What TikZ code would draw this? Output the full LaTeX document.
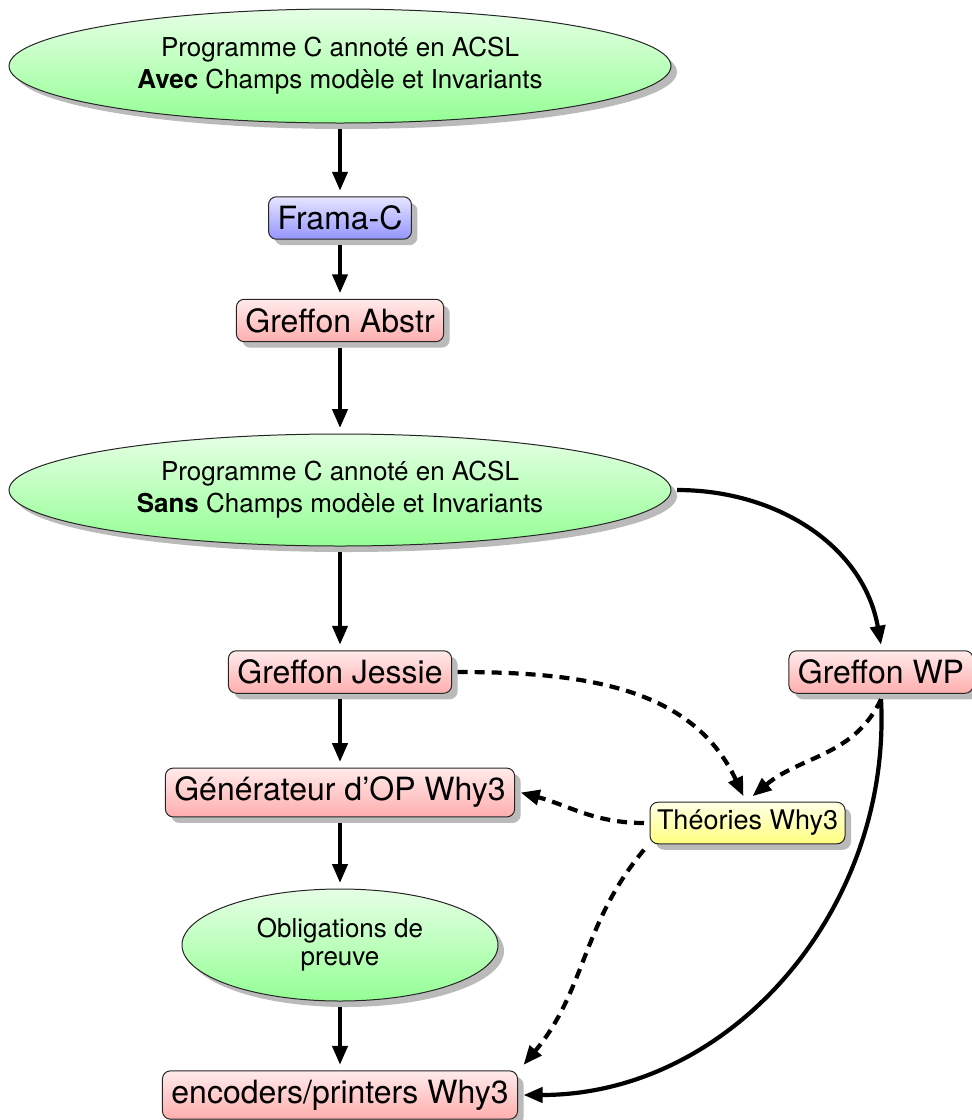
\documentclass[tikz,border=0pt]{standalone}
\usepackage{fontspec}
\setmainfont{TeX Gyre Heros}
\usetikzlibrary{shapes.geometric,shadows,arrows.meta}
\begin{document}
\begin{tikzpicture}[x=1pt,y=-1pt,
  every node/.style={outer sep=6pt},
  base/.style={draw=black!85, line width=1pt,
    drop shadow={shadow xshift=6pt, shadow yshift=-6pt, fill=black!27, opacity=1}},
  ell/.style={base, ellipse, inner sep=0pt, align=center,
    font=\fontsize{26}{32}\selectfont, top color=green!10, bottom color=green!42},
  boxr/.style={base, rectangle, rounded corners=8pt, inner xsep=9pt, inner ysep=9pt,
    font=\fontsize{32}{38}\selectfont, top color=red!8, bottom color=red!32},
  boxb/.style={boxr, top color=blue!10, bottom color=blue!42},
  boxy/.style={boxr, inner xsep=7pt, inner ysep=8pt,
    font=\fontsize{27}{32}\selectfont, top color=yellow!10, bottom color=yellow!50},
  arr/.style={line width=4.2pt, -{Triangle[length=19pt,width=15pt]}},
  darr/.style={arr, dash pattern=on 10pt off 7pt},
]
\useasboundingbox (0,0) rectangle (972,1120);

\node[ell, minimum width=662pt, minimum height=114pt] (top) at (340,66)
  {Programme C annoté en ACSL\\\textbf{Avec} Champs modèle et Invariants};
\node[boxb] (frama) at (340,218) {Frama-C};
\node[boxr] (abstr) at (340,320.5) {Greffon Abstr};
\node[ell, minimum width=662pt, minimum height=112pt] (sans) at (340,490)
  {Programme C annoté en ACSL\\\textbf{Sans} Champs modèle et Invariants};
\node[boxr] (jessie) at (340,672) {Greffon Jessie};
\node[boxr] (wp) at (881,672) {Greffon WP};
\node[boxr] (gen) at (340,792.5) {Générateur d'OP Why3};
\node[boxy] (th) at (747.5,823) {Théories Why3};
\node[ell, minimum width=316pt, minimum height=112pt,
  font=\fontsize{26}{28}\selectfont] (obl) at (340,945) {Obligations de\\preuve};
\node[boxr] (enc) at (340,1095) {encoders/printers Why3};

\draw[arr] (top) -- (frama);
\draw[arr] (frama) -- (abstr);
\draw[arr] (abstr) -- (sans);
\draw[arr] (sans) -- (jessie);
\draw[arr] (jessie) -- (gen);
\draw[arr] (gen) -- (obl);
\draw[arr] (obl) -- (enc);

\draw[arr] (sans.east) to[out=0,in=100] (wp.north);
\draw[darr] (jessie.east) to[out=0,in=115] ([xshift=-4pt]th.north);
\draw[darr] (wp.south) to[out=-115,in=40] ([xshift=5pt]th.north);
\draw[darr] (th.west) to[out=180,in=-15] (gen.east);
\draw[darr] (th.south west) to[out=-130,in=50] (enc.north east);
\draw[arr] (wp.south) to[out=-87,in=0] (enc.east);
\end{tikzpicture}
\end{document}
